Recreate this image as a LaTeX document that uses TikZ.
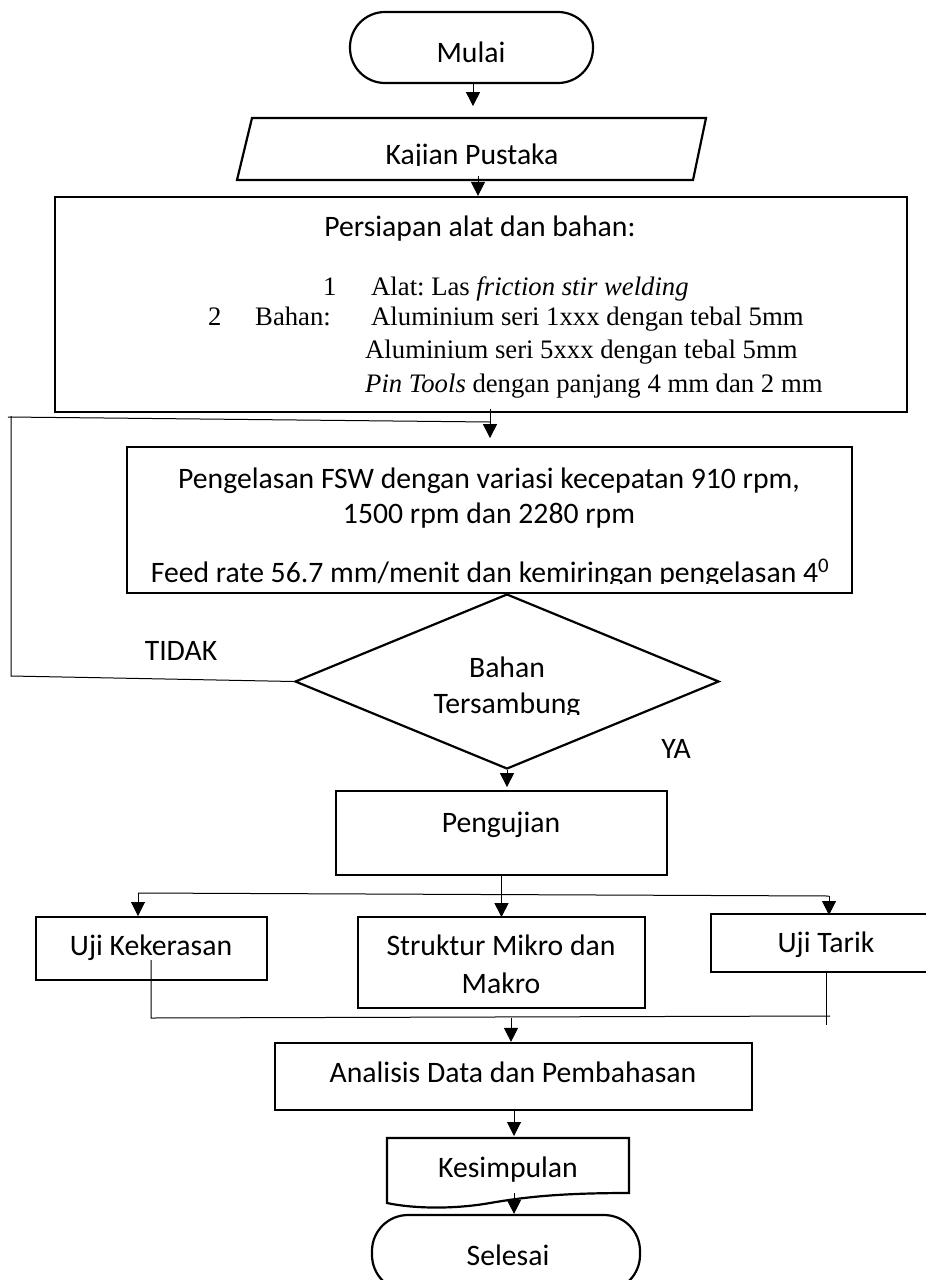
\documentclass[tikz,border=0pt]{standalone}
\usepackage{fontspec}
\setmainfont{Carlito}
\newfontfamily\timesf{Liberation Serif}
\usetikzlibrary{shapes.geometric,arrows.meta,calc}
\frenchspacing
\begin{document}
\frenchspacing
\begin{tikzpicture}[x=1pt,y=-1pt,
  box/.style={draw,line width=2.2pt,inner sep=0pt},
  wire/.style={line width=1pt},
  conn/.style={line width=1pt,-{Triangle[length=14pt,width=14pt]}},
  lbl/.style={font=\fontsize{29.7}{35}\selectfont,inner sep=0pt,anchor=base},
  tms/.style={font=\timesf\fontsize{26.7}{32}\selectfont\frenchspacing,inner sep=0pt,anchor=base west},
]
\useasboundingbox (0,0) rectangle (926,1280);
\fill[white] (0,0) rectangle (926,1280);

% Mulai
\node[box,rounded corners=35pt,minimum width=243pt,minimum height=71pt] (mulai) at (471.5,47.5) {};
\node[lbl] (tmulai) at (471,62) {Mulai};

% Kajian Pustaka
\draw[box] (252,118) -- (706,118) -- (693,180) -- (237,180) -- cycle;
\begin{scope}
  \clip (240,120) rectangle (700,165);
  \node[lbl] (kajian) at (472,164) {Kajian Pustaka};
\end{scope}
\coordinate (kbot) at (478,176);

% Persiapan
\node[box,minimum width=852pt,minimum height=215pt] (persiapan) at (481,304.5) {};
\node[lbl] (tpers) at (480,236) {Persiapan alat dan bahan:};
\node[tms] (n1) at (323,295) {1};
\node[tms] (alat) at (371,295) {Alat: Las \textit{friction stir welding}};
\node[tms] (n2) at (208,325) {2};
\node[tms] (bahan) at (255,325) {Bahan:};
\node[tms] (al1) at (371,325) {Aluminium seri 1xxx dengan tebal 5mm};
\node[tms] (al5) at (365,358) {Aluminium seri 5xxx dengan tebal 5mm};
\node[tms] (pin) at (365,392) {\textit{Pin Tools} dengan panjang 4 mm dan 2 mm};

% Pengelasan
\node[box,minimum width=725pt,minimum height=146pt] (las) at (489.5,520) {};
\begin{scope}
  \clip (130,450) rectangle (850,583);
  \node[lbl] (l1) at (489,488) {Pengelasan FSW dengan variasi kecepatan 910 rpm,};
  \node[lbl] (l2) at (489,523) {1500 rpm dan 2280 rpm};
  \node[lbl] (l3) at (490,582) {Feed rate 56.7 mm/menit dan kemiringan pengelasan 4\textsuperscript{0}};
\end{scope}

% Decision
\node[box,diamond,minimum width=424pt,minimum height=175pt] (dia) at (507,681.5) {};
\node[lbl] (tb1) at (507,677) {Bahan};
\begin{scope}
  \clip (400,690) rectangle (620,714);
  \node[lbl] (tb2) at (507,713) {Tersambung};
\end{scope}
\node[lbl] (tidak) at (181,660) {TIDAK};
\node[lbl] (ya) at (676,758) {YA};

% Pengujian
\node[box,minimum width=331pt,minimum height=84pt] (peng) at (501.5,833) {};
\node[lbl] (tpeng) at (501,832) {Pengujian};

% three tests
\node[box,minimum width=231pt,minimum height=63pt] (ujik) at (151.5,948.5) {};
\node[lbl] (tujik) at (151,955) {Uji Kekerasan};
\node[box,minimum width=287pt,minimum height=91pt] (struk) at (501.5,962.5) {};
\node[lbl] (ts1) at (501,955) {Struktur Mikro dan};
\node[lbl] (ts2) at (501,993) {Makro};
\node[box,minimum width=229pt,minimum height=58pt] (ujit) at (825.5,943) {};
\node[lbl] (tujit) at (826,952) {Uji Tarik};

% Analisis
\node[box,minimum width=477pt,minimum height=67pt] (anal) at (513.5,1076.5) {};
\node[lbl] (tanal) at (513,1082) {Analisis Data dan Pembahasan};

% Kesimpulan (document)
\draw[box] (387,1203) -- (387,1138) -- (629,1138) -- (629,1193)
  .. controls (560,1193) and (525,1197) .. (490,1203)
  .. controls (450,1210) and (410,1208) .. (387,1203) -- cycle;
\node[lbl] (kes) at (508,1177) {Kesimpulan};

% Selesai
\node[box,rounded corners=36pt,minimum width=268pt,minimum height=76pt] (selesai) at (506,1253) {};
\node[lbl] (tsel) at (508,1265) {Selesai};

% connectors
\draw[conn] ($(mulai.south)+(1.5,0)$) -- ++(0,22);
\draw[conn] (kbot) -- (kbot |- persiapan.north);
\draw[conn] ($(persiapan.south)+(9,-4)$) -- ++(0,29);
\coordinate (lp1) at (11,676);
\coordinate (lp2) at (11,416);
\coordinate (lp3) at (8,417);
\coordinate (lp4) at (490,422);
\draw[wire] (dia.west) -- (lp1) -- (lp2);
\draw[wire] (lp3) -- (lp4);
\draw[conn] (dia.south) -- ++(0,17);
\draw[conn] (peng.south) -- ++(0,41);
\coordinate (bl) at (138,893);
\coordinate (br) at (829,896);
\draw[wire] (bl) -- (br);
\draw[conn] (bl) -- ++(0,23);
\draw[conn] (br) -- ++(0,19);
\coordinate (ml) at (151,1018);
\coordinate (mr) at (830,1016);
\draw[wire] (151,960) -- (ml) -- (mr);
\draw[wire] (826,973) -- (826,1025);
\draw[conn] (511,1018) -- (anal.north -| 511,0);
\draw[conn] (514,1110) -- ++(0,26);
\draw[conn] (514,1193) -- (selesai.north -| 514,0);
\end{tikzpicture}
\end{document}
